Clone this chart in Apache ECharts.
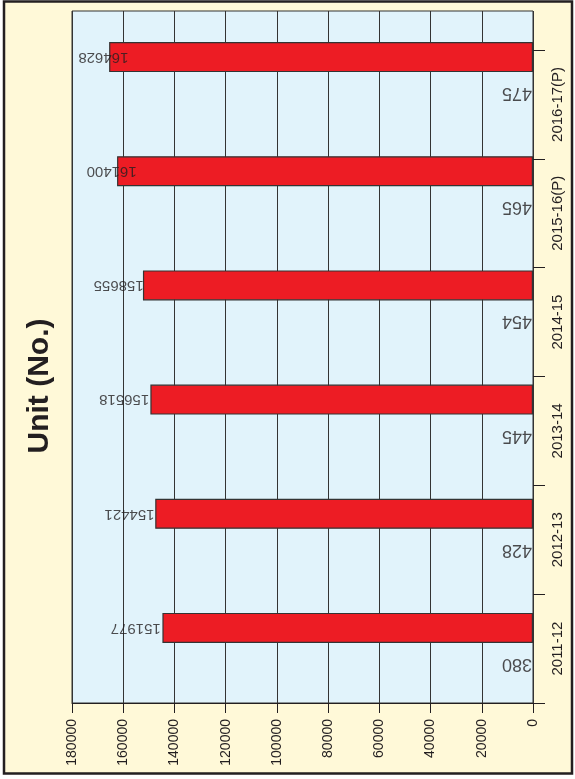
<!DOCTYPE html>
<html>
<head>
<meta charset="utf-8">
<script src="https://cdn.jsdelivr.net/npm/echarts@6/dist/echarts.min.js"></script>
<style>
html,body{margin:0;padding:0;background:#ffffff;}
#chart{width:575px;height:779px;}
</style>
</head>
<body>
<div id="chart"></div>
<script>
// Data
var categories = ['2011-12', '2012-13', '2013-14', '2014-15', '2015-16(P)', '2016-17(P)'];
var barValues = [144700, 147500, 149400, 152300, 162400, 165500];
var valueLabels = [151977, 154421, 156518, 158655, 161400, 164628];
var countLabels = [380, 428, 445, 454, 465, 475];
var axisMin = 0, axisMax = 180000, axisStep = 20000;
var titleText = 'Unit (No.)';

var dark = '#231F20';
var fontFam = '"Liberation Sans", Arial, sans-serif';
var chart = echarts.init(document.getElementById('chart'), null, {renderer: 'canvas'});

var option = {
  animation: false,
  backgroundColor: '#ffffff',
  graphic: [
    {type: 'rect', z: -100, shape: {x: 4, y: 1.5, width: 568, height: 772},
     style: {fill: '#FFF9D8', stroke: dark, lineWidth: 2.5}},
    {type: 'text', x: 40, y: 386, rotation: Math.PI / 2, z: 10,
     style: {text: titleText, font: 'bold 30px ' + fontFam,
             fill: dark, align: 'center', verticalAlign: 'middle'}}
  ],
  grid: [
    {left: 72, right: 42, top: 11, bottom: 76, show: true, backgroundColor: '#E1F3FB',
     borderColor: '#333333', borderWidth: 1, containLabel: false},
    {left: 72, right: 42, top: -5, bottom: 94, containLabel: false},
    {left: 72, right: 42, top: 50, bottom: 76, containLabel: false}
  ],
  xAxis: [
    {type: 'value', gridIndex: 0, inverse: true, min: axisMin, max: axisMax, interval: axisStep,
     position: 'bottom',
     axisLine: {show: true, lineStyle: {color: dark, width: 1}},
     axisTick: {show: true, length: 10, lineStyle: {color: dark}},
     axisLabel: {rotate: 90, fontSize: 14, color: dark, margin: 16, fontFamily: fontFam,
                 formatter: function (v) { return String(v); }},
     splitLine: {show: true, lineStyle: {color: '#333333', width: 1}}},
    {type: 'value', gridIndex: 1, inverse: true, min: axisMin, max: axisMax, show: false},
    {type: 'value', gridIndex: 2, inverse: true, min: axisMin, max: axisMax, show: false}
  ],
  yAxis: [
    {type: 'value', gridIndex: 0, show: false},
    {type: 'category', gridIndex: 1, data: categories, show: false},
    {type: 'category', gridIndex: 2, data: categories, position: 'right',
     axisLine: {show: false},
     axisTick: {show: true, length: 12, lineStyle: {color: dark}},
     axisLabel: {rotate: 90, fontSize: 15, color: dark, margin: 17, fontFamily: fontFam},
     splitLine: {show: false}}
  ],
  series: [
    {type: 'bar', xAxisIndex: 1, yAxisIndex: 1, data: barValues, barWidth: 30,
     itemStyle: {color: '#ED1C24', borderColor: '#333333', borderWidth: 1.2}},
    {type: 'scatter', xAxisIndex: 1, yAxisIndex: 1, symbolSize: 0, z: 5,
     data: valueLabels.map(function (v, i) { return [v, i]; }),
     label: {show: true, position: 'inside', rotate: 180, offset: [8, 0],
             fontSize: 15, color: dark, fontFamily: fontFam,
             formatter: function (p) { return String(valueLabels[p.dataIndex]); }}},
    {type: 'scatter', xAxisIndex: 1, yAxisIndex: 1, symbolSize: 0, z: 5,
     data: countLabels.map(function (v, i) { return [0, i]; }),
     label: {show: true, position: 'inside', rotate: 180, offset: [16, -36],
             fontSize: 18, color: dark, fontFamily: fontFam,
             formatter: function (p) { return String(countLabels[p.dataIndex]); }}}
  ]
};
chart.setOption(option);
</script>
</body>
</html>
